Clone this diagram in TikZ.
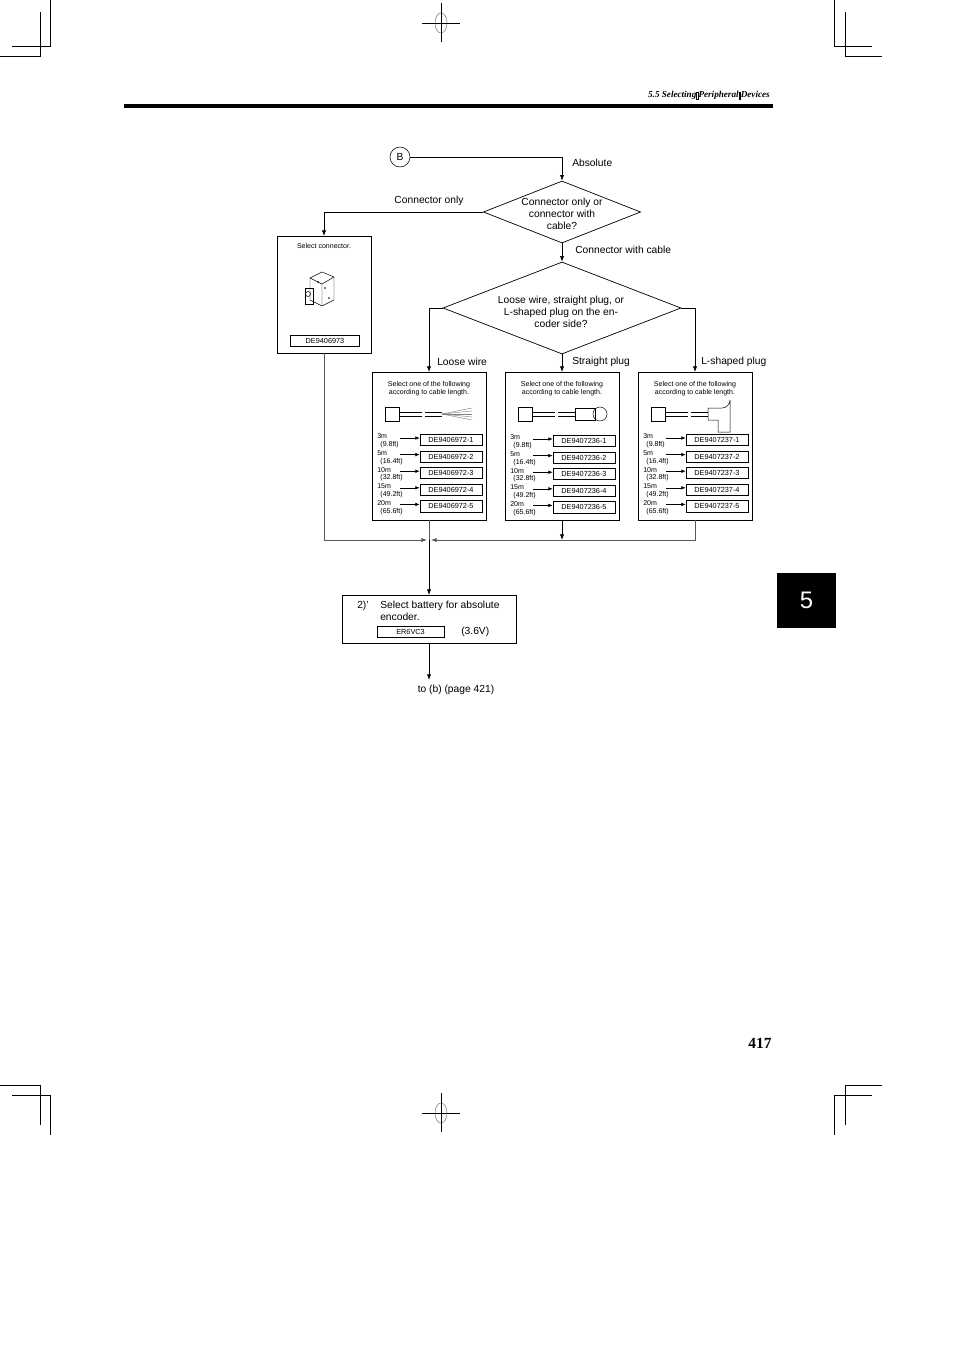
\documentclass[tikz,border=0pt]{standalone}
\usepackage{fontspec}
\setmainfont{Liberation Sans}
\newfontfamily\headfont{Liberation Serif}
\usetikzlibrary{shapes,arrows,positioning,calc,arrows.meta}

\tikzset{
    flow/.style={-{Latex[length=4pt,width=3pt]},line width=0.5pt},
    plain/.style={line width=0.5pt},
    thin line/.style={line width=0.35pt,gray!70!black},
    lbl/.style={font=\fontsize{7.3}{8.5}\selectfont,inner sep=0pt},
    tinylbl/.style={font=\fontsize{5}{5.6}\selectfont,inner sep=0pt,align=center},
    partbox/.style={draw,line width=0.5pt,minimum width=1.55cm,minimum height=0.28cm,inner sep=0pt,font=\fontsize{5.2}{6}\selectfont},
    crop/.style={line width=0.6pt}
}

% one cable table inside a selection box
\newcommand{\cablerows}[3]{% #1 left x, #2 top y, #3 part prefix
    \foreach \len/\ft [count=\i] in {3m/9.8ft,5m/16.4ft,10m/32.8ft,15m/49.2ft,20m/65.6ft} {
        \pgfmathsetmacro{\yy}{#2+(\i-1)*16.6}
        \node[partbox] (p#3\i) at (#1+79,\yy) {#3-\i};
        \node[tinylbl,anchor=west,align=left] at (#1+5,\yy+1) {\len\\\ \,(\ft)};
        \draw[-{Latex[length=3pt,width=2.5pt]},line width=0.4pt] (#1+28,\yy-2) -- (p#3\i.west |- 0,\yy-2);
    }
}
\newcommand{\gapbox}{\raisebox{-0.1em}{\fbox{\rule{0pt}{0.55em}\hspace{0.05em}}}}

\begin{document}
\begin{tikzpicture}[x=0.025cm,y=-0.025cm]
    \useasboundingbox (0,0) rectangle (954,1351);
    % Crop marks
    \draw[crop] (50,0) -- (50,46) -- (12,46);
    \draw[crop] (40,12) -- (40,56) -- (0,56);
    \draw[crop] (834,0) -- (834,46) -- (872,46);
    \draw[crop] (845,12) -- (845,56) -- (882,56);
    \draw[crop] (50,1135) -- (50,1095) -- (12,1095);
    \draw[crop] (40,1125) -- (40,1085) -- (0,1085);
    \draw[crop] (834,1135) -- (834,1095) -- (872,1095);
    \draw[crop] (845,1125) -- (845,1085) -- (882,1085);
    \draw[gray] (441,23) ellipse (6 and 10);
    \draw[line width=0.3pt] (441,3) -- (441,42);
    \draw[crop] (422,23) -- (460,23);
    \draw[gray] (441,1113) ellipse (6 and 10);
    \draw[line width=0.3pt] (441,1093) -- (441,1132);
    \draw[crop] (422,1113) -- (460,1113);
    % Header
    \setlength{\fboxsep}{0.3pt}\setlength{\fboxrule}{0.3pt}
    \node[anchor=east,inner sep=0pt,font=\headfont\itshape\bfseries\fontsize{6.5}{7}\selectfont] (head) at (770,95) {5.5 Selecting\gapbox Peripheral\gapbox Devices};
    \draw[line width=3pt] (124,106) -- (773,106);
    % Chapter tab
    \fill (777,573) rectangle (836,628);
    \node[white,font=\fontsize{17}{18}\selectfont] (tab) at (806.5,600) {5};
    \node[font=\headfont\bfseries\fontsize{11}{12}\selectfont] (pagenum) at (760,1043) {417};

    % Start
    \node[draw,circle,minimum size=0.5cm,inner sep=0pt,lbl] (start) at (400,157) {B};
    \coordinate (top) at (562,157);
    % Decisions
    \node[draw,diamond,plain,minimum width=3.93cm,minimum height=1.55cm,inner sep=0pt] (dec1) at (562,212) {};
    \node[lbl,align=center] at (562,214) {Connector only or\\connector with\\cable?};
    \node[draw,diamond,plain,minimum width=5.95cm,minimum height=2.3cm,inner sep=0pt] (dec2) at (562,308) {};
    \node[lbl,align=center] at (561,312) {Loose wire, straight plug, or\\L-shaped plug on the en-\\coder side?};
    \draw[plain] (start) -- (top);
    \draw[flow] (top) -- (dec1.north);
    \node[lbl,anchor=west] at (572,163) {Absolute};
    \draw[flow] (dec1.south) -- (dec2.north);
    \node[lbl,anchor=west] at (575,250) {Connector with cable};

    % Connector only box
    \draw[plain] (277,236) rectangle (371,353);
    \node[tinylbl] at (324,246) {Select connector.};
    \node[partbox,minimum width=1.72cm] (pconn) at (325,341) {DE9406973};
    \coordinate (conntop) at (324,236);
    \draw[flow] (dec1.west) -| (conntop);
    \node[lbl] at (429,201) {Connector only};
    % connector sketch
    \begin{scope}[line width=0.35pt]
        \draw (310,278) -- (322,272) -- (334,277) -- (334,300) -- (322,306) -- (310,300) -- cycle;
        \draw (310,278) -- (322,284) -- (334,277) (322,284) -- (322,306);
        \draw (305,288) rectangle (313,304);
        \draw (308,294) circle (2.5);
        \foreach \p in {(325,288),(329,298),(318,282)} \fill \p circle (0.9);
    \end{scope}

    % Three cable boxes
    \foreach \bx/\nm in {372/loose,505/straight,638/lshape} {
        \draw[plain] (\bx,372) rectangle (\bx+114,520);
        \node[tinylbl] at (\bx+57,389) {Select one of the following\\according to cable length.};
        \coordinate (\nm top) at (\bx+57,372);
        \coordinate (\nm bot) at (\bx+57,520);
        % cable sketch
        \draw[line width=0.35pt] (\bx+13,407) rectangle (\bx+27,421);
        \draw[line width=0.35pt] (\bx+27,412) -- (\bx+50,412) (\bx+27,416) -- (\bx+50,416);
        \draw[line width=0.35pt] (\bx+53,412) -- (\bx+70,412) (\bx+53,416) -- (\bx+70,416);
    }
    % cable ends
    \foreach \a in {-6,-3,0,3,6} \draw[line width=0.3pt,gray] (442,414) -- (472,414+\a);
    \draw[line width=0.35pt] (575,408) rectangle (595,420);
    \draw[line width=0.35pt] (600,414) ellipse (7 and 7);
    \draw[line width=0.35pt] (708,408) -- (722,408) arc (90:0:8) -- (730,432) -- (718,432) -- (718,420) -- (708,420) -- cycle;
    \cablerows{372}{440}{DE9406972}
    \cablerows{505}{441}{DE9407236}
    \cablerows{638}{440}{DE9407237}

    \draw[flow] (dec2.west) -| (loosetop);
    \draw[flow] (dec2.south) -- (straighttop);
    \draw[flow] (dec2.east) -| (lshapetop);
    \node[lbl,anchor=west] at (437,362) {Loose wire};
    \node[lbl,anchor=west] at (572,362) {Straight plug};
    \node[lbl,anchor=west] at (701,362) {L-shaped plug};

    % Merge
    \coordinate (merge) at (429,540);
    \coordinate (mergel) at (427,540);
    \coordinate (merger) at (431,540);
    \draw[thin line] (loosebot) -- (merge);
    \draw[thin line] (pconn.south -| conntop) ++(0,6) |- (324,540) coordinate (cl);
    \draw[flow,gray!70!black] (cl) -- (mergel);
    \draw[thin line] (lshapebot) |- (562,540);
    \draw[flow,gray!70!black] (562,540) -- (merger);
    \draw[flow] (straightbot) -- (562,540);

    % Battery box
    \draw[plain] (342,595) rectangle (516,643);
    \coordinate (battop) at (429,595);
    \coordinate (batbot) at (429,643);
    \draw[flow] (merge) -- (battop);
    \node[lbl,anchor=west] at (357,606) {2)'};
    \node[lbl,anchor=north west,align=left] at (380,601) {Select battery for absolute\\encoder.};
    \node[partbox,minimum width=1.68cm] (pbat) at (410.5,632) {ER6VC3};
    \node[lbl,anchor=west] at (461,632) {(3.6V)};
    \coordinate (next) at (429,680);
    \draw[flow] (batbot) -- (next);
    \node[lbl] at (456,690) {to (b) (page 421)};
\end{tikzpicture}
\end{document}
